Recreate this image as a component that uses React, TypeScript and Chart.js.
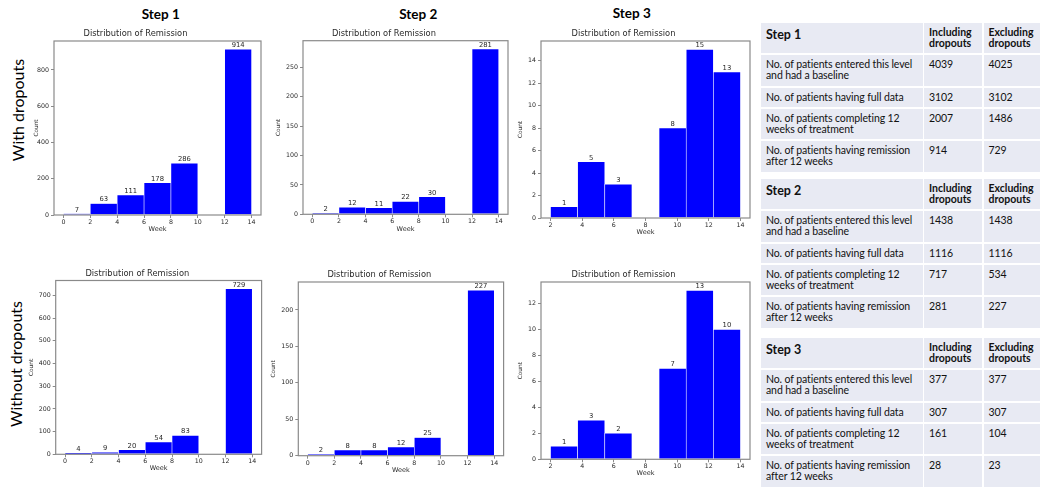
import React, { useEffect, useRef } from "react";
import { Chart, registerables } from "chart.js";

Chart.register(...registerables);

// ---------- data ----------
const binCenters0to14 = [1, 3, 5, 7, 9, 11, 13];
const binCenters2to14 = [2.857, 4.571, 6.286, 8.0, 9.714, 11.429, 13.143];
const binEdges0to14 = [0, 14];
const binEdges2to14 = [2, 14];

const step1WithDropouts = [7, 63, 111, 178, 286, 0, 914];
const step2WithDropouts = [2, 12, 11, 22, 30, 0, 281];
const step3WithDropouts = [1, 5, 3, 0, 8, 15, 13];
const step1WithoutDropouts = [4, 9, 20, 54, 83, 0, 729];
const step2WithoutDropouts = [2, 8, 8, 12, 25, 0, 227];
const step3WithoutDropouts = [1, 3, 2, 0, 7, 13, 10];

const weekTicks0to14 = [0, 2, 4, 6, 8, 10, 12, 14];
const weekTicks2to14 = [2, 4, 6, 8, 10, 12, 14];
const countTicksStep1With = [0, 200, 400, 600, 800];
const countTicksStep2With = [0, 50, 100, 150, 200, 250];
const countTicksStep3With = [0, 2, 4, 6, 8, 10, 12, 14];
const countTicksStep1Without = [0, 100, 200, 300, 400, 500, 600, 700];
const countTicksStep2Without = [0, 50, 100, 150, 200];
const countTicksStep3Without = [0, 2, 4, 6, 8, 10, 12];

const chartTitle = "Distribution of Remission";
const xAxisTitle = "Week";
const yAxisTitle = "Count";
const stepHeadings = ["Step 1", "Step 2", "Step 3"];
const rowHeadings = ["With dropouts", "Without dropouts"];

const tableRowLabels = [
  ["No. of patients entered this level", "and had a baseline"],
  ["No. of patients having full data"],
  ["No. of patients completing 12", "weeks of treatment"],
  ["No. of patients having remission", "after 12 weeks"],
];
const tableColHeads = [["Including", "dropouts"], ["Excluding", "dropouts"]];
const step1Including = [4039, 3102, 2007, 914];
const step1Excluding = [4025, 3102, 1486, 729];
const step2Including = [1438, 1116, 717, 281];
const step2Excluding = [1438, 1116, 534, 227];
const step3Including = [377, 307, 161, 28];
const step3Excluding = [377, 307, 104, 23];

// ---------- styles ----------
const MPL_FONT = '"DejaVu Sans", sans-serif';
const TITLE_SIZE = 8.3;
const TICK_SIZE = 6.3;
const WEEK_SIZE = 6.5;
const COUNT_SIZE = 5.8;
const LABEL_SIZE = 6.8;
const TEXT_COLOR = "#2a2a2a";
const FRAME_COLOR = "#8a8a8a";
const UI_FONT = 'Lato, "Open Sans", sans-serif';

type Frame = { L: number; T: number; R: number; B: number };
type HistProps = {
  centers: number[];
  counts: number[];
  edges: number[];
  xTicks: number[];
  yTicks: number[];
  frame: Frame;
  titleX: number;
  titleY: number;
  countX: number;
  weekY: number;
};

function Hist(p: HistProps) {
  const ref = useRef<HTMLCanvasElement>(null);
  const lh = TITLE_SIZE * 1.2;
  const CL = Math.round(2 * p.titleX - p.frame.R);
  const CW = Math.round(p.frame.R + 4 - CL);
  const padR = CL + CW - p.frame.R;
  const CT = Math.round(p.frame.T - 14);
  const pt = Math.max(0, p.titleY - CT - lh / 2);
  const pb = Math.max(0, p.frame.T - CT - pt - lh);
  const CH = Math.round(p.frame.B + 22 - CT);
  const xH = CT + CH - p.frame.B;
  const yW = p.frame.L - CL;
  const countPad = Math.max(0, p.countX - CL - (COUNT_SIZE * 1.2) / 2);
  const weekPad = Math.max(0, CT + CH - p.weekY - (WEEK_SIZE * 1.2) / 2);

  useEffect(() => {
    if (!ref.current) return;
    const span = p.edges[1] - p.edges[0];
    const xMin = p.edges[0] - span * 0.05;
    const xMax = p.edges[1] + span * 0.05;
    const yMax = Math.max(...p.counts) * 1.05;
    const counts = p.counts;

    const histPlugin = {
      id: "histDecor",
      afterDatasetsDraw(chart: any) {
        const ctx = chart.ctx;
        const meta = chart.getDatasetMeta(0);
        ctx.save();
        ctx.font = `${LABEL_SIZE}px ${MPL_FONT}`;
        ctx.fillStyle = TEXT_COLOR;
        ctx.textAlign = "center";
        ctx.textBaseline = "bottom";
        meta.data.forEach((el: any, i: number) => {
          const v = counts[i];
          if (!v) return;
          ctx.fillText(String(v), el.x, el.y - 0.5);
        });
        ctx.restore();
      },
      afterDraw(chart: any) {
        const { ctx, chartArea: a } = chart;
        ctx.save();
        ctx.strokeStyle = FRAME_COLOR;
        ctx.lineWidth = 1.2;
        ctx.strokeRect(a.left, a.top, a.right - a.left, a.bottom - a.top);
        ctx.restore();
      },
    };

    const chart = new Chart(ref.current, {
      type: "bar",
      data: {
        datasets: [
          {
            data: p.centers.map((c, i) => ({ x: c, y: p.counts[i] })),
            backgroundColor: "#0000ff",
            borderColor: "#ffffff",
            borderWidth: 0.6,
            borderSkipped: false,
            barPercentage: 1,
            categoryPercentage: 1,
          },
        ],
      },
      options: {
        animation: false,
        responsive: false,
        devicePixelRatio: 1,
        layout: { padding: { left: 0, top: 0, bottom: 0, right: padR }, autoPadding: false },
        plugins: {
          legend: { display: false },
          tooltip: { enabled: false },
          title: {
            display: true,
            text: chartTitle,
            color: TEXT_COLOR,
            font: { family: MPL_FONT, size: TITLE_SIZE, weight: "normal", lineHeight: 1.2 },
            padding: { top: pt, bottom: pb },
          },
        },
        scales: {
          x: {
            type: "linear",
            min: xMin,
            max: xMax,
            offset: false,
            border: { display: false },
            grid: {
              display: true,
              offset: false,
              drawOnChartArea: false,
              drawTicks: true,
              tickLength: 3,
              color: FRAME_COLOR,
            },
            ticks: {
              color: TEXT_COLOR,
              font: { family: MPL_FONT, size: TICK_SIZE },
              padding: 0.5,
              maxRotation: 0,
              autoSkip: false,
            },
            title: {
              display: true,
              text: xAxisTitle,
              color: TEXT_COLOR,
              font: { family: MPL_FONT, size: WEEK_SIZE, lineHeight: 1.2 },
              padding: { top: 0, bottom: weekPad },
            },
            afterBuildTicks: (s: any) => {
              s.ticks = p.xTicks.map((v) => ({ value: v }));
            },
            afterFit: (s: any) => {
              s.height = xH;
              s.paddingLeft = 0;
              s.paddingRight = 0;
            },
          },
          y: {
            type: "linear",
            min: 0,
            max: yMax,
            border: { display: false },
            grid: {
              display: true,
              drawOnChartArea: false,
              drawTicks: true,
              tickLength: 3,
              color: FRAME_COLOR,
            },
            ticks: {
              color: TEXT_COLOR,
              font: { family: MPL_FONT, size: TICK_SIZE },
              padding: 2,
              autoSkip: false,
            },
            title: {
              display: true,
              text: yAxisTitle,
              color: TEXT_COLOR,
              font: { family: MPL_FONT, size: COUNT_SIZE, lineHeight: 1.2 },
              padding: { top: countPad, bottom: 0 },
            },
            afterBuildTicks: (s: any) => {
              s.ticks = p.yTicks.map((v) => ({ value: v }));
            },
            afterFit: (s: any) => {
              s.width = yW;
              s.paddingTop = 0;
              s.paddingBottom = 0;
            },
          },
        },
      },
      plugins: [histPlugin],
    } as any);
    return () => chart.destroy();
  }, []);

  return (
    <canvas
      ref={ref}
      width={CW}
      height={CH}
      style={{ position: "absolute", left: CL, top: CT, width: CW, height: CH, display: "block" }}
    />
  );
}

const histograms: HistProps[] = [
  {
    centers: binCenters0to14, counts: step1WithDropouts, edges: binEdges0to14,
    xTicks: weekTicks0to14, yTicks: countTicksStep1With,
    frame: { L: 54, T: 41, R: 261, B: 215 }, titleX: 135.3, titleY: 34, countX: 36, weekY: 229.3,
  },
  {
    centers: binCenters0to14, counts: step2WithDropouts, edges: binEdges0to14,
    xTicks: weekTicks0to14, yTicks: countTicksStep2With,
    frame: { L: 303, T: 40.7, R: 508, B: 214.3 }, titleX: 383.8, titleY: 34, countX: 278.3, weekY: 229.3,
  },
  {
    centers: binCenters2to14, counts: step3WithDropouts, edges: binEdges2to14,
    xTicks: weekTicks2to14, yTicks: countTicksStep3With,
    frame: { L: 541, T: 41, R: 750, B: 218 }, titleX: 623.3, titleY: 34, countX: 520.7, weekY: 232.3,
  },
  {
    centers: binCenters0to14, counts: step1WithoutDropouts, edges: binEdges0to14,
    xTicks: weekTicks0to14, yTicks: countTicksStep1Without,
    frame: { L: 55.7, T: 280.5, R: 261.6, B: 454.3 }, titleX: 137.2, titleY: 273.7, countX: 31.7, weekY: 468.7,
  },
  {
    centers: binCenters0to14, counts: step2WithoutDropouts, edges: binEdges0to14,
    xTicks: weekTicks0to14, yTicks: countTicksStep2Without,
    frame: { L: 298.3, T: 282, R: 503.6, B: 455.7 }, titleX: 379.2, titleY: 275, countX: 273.3, weekY: 470,
  },
  {
    centers: binCenters2to14, counts: step3WithoutDropouts, edges: binEdges2to14,
    xTicks: weekTicks2to14, yTicks: countTicksStep3Without,
    frame: { L: 541, T: 282, R: 750, B: 459.3 }, titleX: 623.3, titleY: 275, countX: 520.7, weekY: 473.3,
  },
];

const stepHeadingPos = [
  { x: 160.8, y: 14 },
  { x: 418.3, y: 14 },
  { x: 631.7, y: 13 },
];
const rowHeadingPos = [
  { x: 17.2, y: 110 },
  { x: 14.5, y: 364 },
];

const CELL_BG = "#e8eaf3";
const colX = [
  [761, 922.5],
  [924, 982],
  [983.5, 1040],
];
const rowHeights = [30, 31, 19, 30, 31];
const ROW_GAP = 2;

function InfoTable({ top, title, inc, exc }: { top: number; title: string; inc: number[]; exc: number[] }) {
  const cells: React.ReactNode[] = [];
  let y = top;
  rowHeights.forEach((h, r) => {
    colX.forEach(([x0, x1], c) => {
      let content: React.ReactNode = null;
      let style: React.CSSProperties = {};
      if (r === 0) {
        if (c === 0) {
          content = title;
          style = { fontWeight: 700, fontSize: 12.5, lineHeight: "13px", paddingTop: 5 };
        } else {
          const lines = tableColHeads[c - 1];
          content = lines.map((l, i) => <div key={i}>{l}</div>);
          style = { fontWeight: 700, fontSize: 10.5, lineHeight: "11px", paddingTop: 4 };
        }
      } else {
        const ri = r - 1;
        if (c === 0) content = tableRowLabels[ri].map((l, i) => <div key={i}>{l}</div>);
        else if (c === 1) content = String(inc[ri]);
        else content = String(exc[ri]);
        style = { fontSize: 10.5, lineHeight: "11px", paddingTop: 4, letterSpacing: "-0.1px" };
      }
      cells.push(
        <div
          key={`${r}-${c}`}
          style={{
            position: "absolute",
            left: x0,
            top: y,
            width: x1 - x0,
            height: h,
            background: CELL_BG,
            boxSizing: "border-box",
            paddingLeft: 5,
            color: "#111",
            fontFamily: UI_FONT,
            whiteSpace: "nowrap",
            ...style,
          }}
        >
          {content}
        </div>
      );
    });
    y += h + ROW_GAP;
  });
  return <>{cells}</>;
}

const tableTops = [23.3, 178.5, 337.5];

export default function App() {
  return (
    <div
      style={{
        position: "absolute",
        left: 0,
        top: 0,
        width: 1050,
        height: 497,
        background: "#ffffff",
        overflow: "hidden",
      }}
    >
      {stepHeadings.map((s, i) => (
        <div
          key={s}
          style={{
            position: "absolute",
            left: stepHeadingPos[i].x,
            top: stepHeadingPos[i].y,
            transform: "translate(-50%, -50%)",
            fontFamily: UI_FONT,
            fontWeight: 700,
            fontSize: 13.5,
            color: "#000",
            whiteSpace: "nowrap",
          }}
        >
          {s}
        </div>
      ))}
      {rowHeadings.map((s, i) => (
        <div
          key={s}
          style={{
            position: "absolute",
            left: rowHeadingPos[i].x,
            top: rowHeadingPos[i].y,
            transform: "translate(-50%, -50%) rotate(-90deg)",
            fontFamily: UI_FONT,
            fontSize: 16,
            color: "#000",
            whiteSpace: "nowrap",
          }}
        >
          {s}
        </div>
      ))}
      {histograms.map((h, i) => (
        <Hist key={i} {...h} />
      ))}
      <InfoTable top={tableTops[0]} title={stepHeadings[0]} inc={step1Including} exc={step1Excluding} />
      <InfoTable top={tableTops[1]} title={stepHeadings[1]} inc={step2Including} exc={step2Excluding} />
      <InfoTable top={tableTops[2]} title={stepHeadings[2]} inc={step3Including} exc={step3Excluding} />
    </div>
  );
}
